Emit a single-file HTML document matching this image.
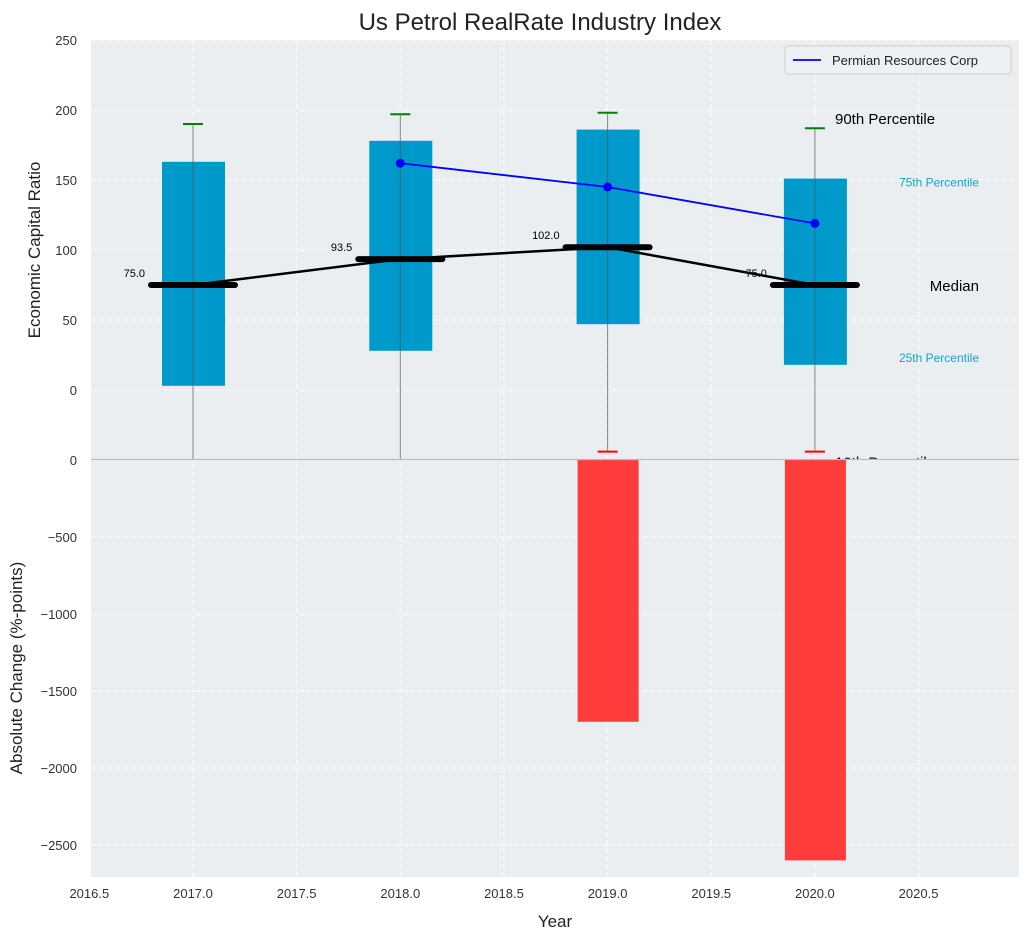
<!DOCTYPE html>
<html><head><meta charset="utf-8"><style>
body{margin:0;background:#fff;font-family:"Liberation Sans",sans-serif}
svg text{font-family:"Liberation Sans",sans-serif}
</style></head><body>
<svg id="chart" width="1029" height="940" xmlns="http://www.w3.org/2000/svg">
<defs>
<clipPath id="topClip"><rect x="91" y="40" width="928" height="419"/></clipPath>
<clipPath id="botClip"><rect x="91" y="460" width="928" height="417"/></clipPath>
</defs>
<g id="g"></g>
</svg>
<script>
const years=[2017,2018,2019,2020];
const p90=[190,197,198,187];
const p75=[163,178,186,151];
const medians=[75,93.5,102,75];
const p25=[3,28,47,18];
const p10=[-60,-60,-44,-44];
const companyYears=[2018,2019,2020];
const companyVals=[162,145,119];
const changeYears=[2019,2020];
const changeVals=[-1700,-2600];
const xTicks=[2016.5,2017,2017.5,2018,2018.5,2019,2019.5,2020,2020.5];
const topTicks=[0,50,100,150,200,250];
const botTicks=[0,-500,-1000,-1500,-2000,-2500];

const NS="http://www.w3.org/2000/svg";
const X=v=>193+(v-2017)*207.3;
const YT=v=>390-v*1.4;
const YB=v=>460-v*0.154;
const g=document.getElementById('g');
function mk(tag,attrs,parent){const el=document.createElementNS(NS,tag);for(const k in attrs)el.setAttribute(k,attrs[k]);(parent||g).appendChild(el);return el;}
function txt(s,attrs,parent){const el=mk('text',attrs,parent);el.textContent=s;return el;}

let e=mk('rect',{x:91,y:40,width:928,height:419,fill:'#eaeef0'});

e=mk('rect',{x:91,y:460,width:928,height:417,fill:'#eaeef0'});


const grid=mk('g',{stroke:'#fff','stroke-dasharray':'5,3','stroke-width':1,opacity:0.9});

xTicks.forEach(t=>{mk('line',{x1:X(t),x2:X(t),y1:40,y2:877},grid);});
topTicks.forEach(t=>{mk('line',{x1:91,x2:1019,y1:YT(t),y2:YT(t)},grid);});
botTicks.forEach(t=>{mk('line',{x1:91,x2:1019,y1:YB(t),y2:YB(t)},grid);});

xTicks.forEach(t=>{e=txt(t.toFixed(1),{x:X(t),y:898,'text-anchor':'middle','font-size':13,fill:'#333'});
});
topTicks.forEach(t=>{e=txt(String(t),{x:77,y:YT(t)+5,'text-anchor':'end','font-size':13,fill:'#333'});
});
botTicks.forEach(t=>{e=txt(t<0?'\u2212'+(-t):String(t),{x:77,y:YB(t)+5,'text-anchor':'end','font-size':13,fill:'#333'});
});

const topG=mk('g',{'clip-path':'url(#topClip)'});

years.forEach((yr,i)=>{
  e=mk('rect',{x:X(yr)-31,y:YT(p75[i]),width:63,height:YT(p25[i])-YT(p75[i]),fill:'#0099cc'},topG);
  
  e=mk('line',{x1:X(yr),x2:X(yr),y1:YT(p90[i]),y2:YT(p10[i]),stroke:'#555','stroke-width':1,opacity:0.7},topG);
  
  e=mk('line',{x1:X(yr)-10,x2:X(yr)+10,y1:YT(p90[i]),y2:YT(p90[i]),stroke:'green','stroke-width':2},topG);
  
  e=mk('line',{x1:X(yr)-10,x2:X(yr)+10,y1:YT(p10[i]),y2:YT(p10[i]),stroke:'red','stroke-width':2},topG);
  
});
e=mk('polyline',{points:years.map((y,i)=>X(y)+','+YT(medians[i])).join(' '),fill:'none',stroke:'#000','stroke-width':2.5},topG);

years.forEach((yr,i)=>{
  e=mk('line',{x1:X(yr)-42,x2:X(yr)+42,y1:YT(medians[i]),y2:YT(medians[i]),stroke:'#000','stroke-width':6,'stroke-linecap':'round'},topG);
  
  e=txt(medians[i].toFixed(1),{x:X(yr)-48,y:YT(medians[i])-8,'text-anchor':'end','font-size':11,fill:'#000'},topG);
  
});
e=mk('polyline',{points:companyYears.map((y,i)=>X(y)+','+YT(companyVals[i])).join(' '),fill:'none',stroke:'#0000ff','stroke-width':1.8},topG);

companyYears.forEach((y,i)=>{e=mk('circle',{cx:X(y),cy:YT(companyVals[i]),r:4.5,fill:'#0000ff'},topG);
  });
const li=years.length-1;
e=txt('90th Percentile',{x:835,y:YT(p90[li])-4,'font-size':15,fill:'#000'},topG);
e=txt('75th Percentile',{x:979,y:YT(p75[li])+8,'text-anchor':'end','font-size':12,fill:'#1a9fd0'},topG);
e=txt('Median',{x:979,y:YT(medians[li])+6,'text-anchor':'end','font-size':15,fill:'#000'},topG);
e=txt('25th Percentile',{x:979,y:YT(p25[li])-3,'text-anchor':'end','font-size':12,fill:'#1a9fd0'},topG);
e=txt('10th Percentile',{x:835,y:YT(p10[li])+16,'font-size':15,fill:'#000'},topG);

const botG=mk('g',{'clip-path':'url(#botClip)'});

changeYears.forEach((y,i)=>{e=mk('rect',{x:X(y)-30,y:460,width:61,height:YB(changeVals[i])-460,fill:'#ff3c3c'},botG);
  });

e=mk('line',{x1:91,x2:1019,y1:459.5,y2:459.5,stroke:'#bbb','stroke-width':1.2});


e=txt('Us Petrol RealRate Industry Index',{x:540,y:30,'text-anchor':'middle','font-size':24,fill:'#222'});
e=txt('Year',{x:555,y:927,'text-anchor':'middle','font-size':17,fill:'#222'});
e=txt('Economic Capital Ratio',{x:0,y:0,'text-anchor':'middle','font-size':17,fill:'#222',transform:'translate(40,250) rotate(-90)'});
e=txt('Absolute Change (%-points)',{x:0,y:0,'text-anchor':'middle','font-size':17,fill:'#222',transform:'translate(22,668) rotate(-90)'});

const lg=mk('g',{});
mk('rect',{x:785,y:46,width:226,height:28,rx:3,fill:'#eef1f3',stroke:'#ccc'},lg);
mk('line',{x1:793,x2:821,y1:60,y2:60,stroke:'#0000ff','stroke-width':1.8},lg);
e=txt('Permian Resources Corp',{x:832,y:65,'font-size':13,fill:'#222'},lg);
</script>
</body></html>
